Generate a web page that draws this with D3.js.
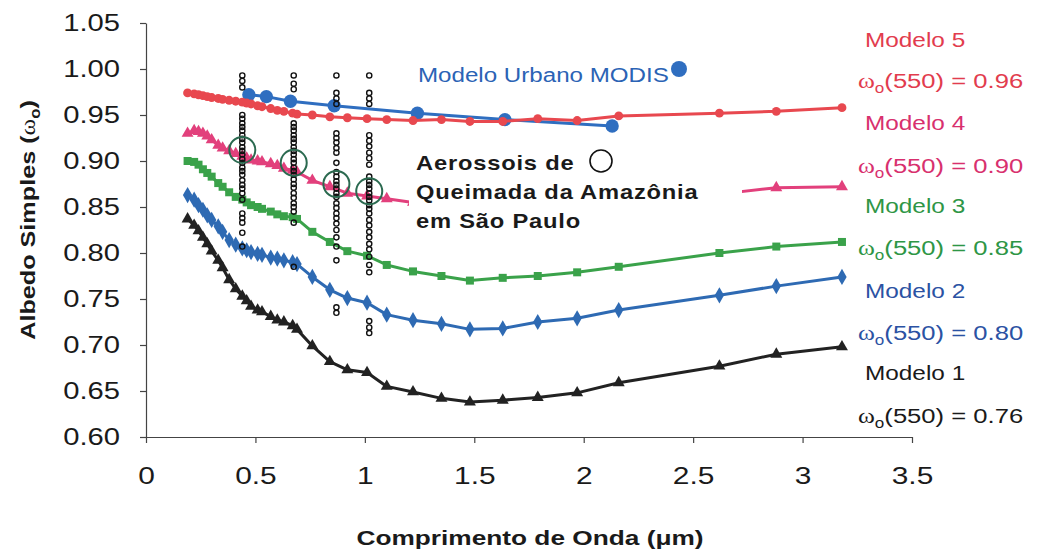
<!DOCTYPE html>
<html>
<head>
<meta charset="utf-8">
<script src="https://cdn.jsdelivr.net/npm/d3@7"></script>
<style>
  body { margin: 0; background: #fff; }
  svg { display: block; }
  text { font-family: "Liberation Sans", Arial, sans-serif; }
</style>
</head>
<body>
<svg id="chart" width="1039" height="552"></svg>
<script>
// Wavelengths (µm) at which the five optical models were computed
const wavelengths = [0.19, 0.22, 0.24, 0.26, 0.28, 0.30, 0.33, 0.35, 0.38, 0.41, 0.44, 0.46, 0.48, 0.51, 0.53,
  0.57, 0.60, 0.63, 0.67, 0.69, 0.76, 0.84, 0.92, 1.01, 1.10, 1.22, 1.35, 1.48, 1.63, 1.79, 1.97, 2.16,
  2.62, 2.88, 3.18];

// Single scattering albedo of each model
const modelo1 = [0.837, 0.830, 0.824, 0.817, 0.810, 0.802, 0.792, 0.784, 0.771, 0.761, 0.753, 0.748, 0.742, 0.738, 0.736,
  0.731, 0.727, 0.725, 0.721, 0.717, 0.699, 0.682, 0.673, 0.670, 0.655, 0.649, 0.642, 0.638, 0.640, 0.643, 0.648, 0.659,
  0.677, 0.690, 0.698];
const modelo2 = [0.863, 0.858, 0.852, 0.847, 0.841, 0.836, 0.829, 0.823, 0.814, 0.809, 0.805, 0.803, 0.801, 0.799, 0.798,
  0.795, 0.794, 0.792, 0.790, 0.788, 0.774, 0.760, 0.751, 0.746, 0.733, 0.727, 0.723, 0.717, 0.718, 0.725, 0.729, 0.738,
  0.754, 0.764, 0.774];
const modelo3 = [0.900, 0.899, 0.896, 0.891, 0.887, 0.883, 0.876, 0.872, 0.866, 0.861, 0.858, 0.855, 0.852, 0.850, 0.848,
  0.845, 0.842, 0.840, 0.839, 0.837, 0.823, 0.812, 0.802, 0.797, 0.787, 0.780, 0.775, 0.770, 0.773, 0.775, 0.779, 0.785,
  0.800, 0.807, 0.812];
const modelo4 = [0.930, 0.933, 0.932, 0.930, 0.927, 0.923, 0.917, 0.914, 0.911, 0.908, 0.905, 0.903, 0.901, 0.900, 0.899,
  0.897, 0.895, 0.892, 0.890, 0.888, 0.879, 0.872, 0.865, 0.862, 0.859, 0.855, 0.853, 0.851, 0.852, 0.855, 0.857, 0.860,
  0.864, 0.871, 0.872];
const modelo5 = [0.974, 0.973, 0.972, 0.971, 0.970, 0.969, 0.968, 0.967, 0.966, 0.965, 0.964, 0.963, 0.962, 0.960, 0.959,
  0.957, 0.955, 0.954, 0.952, 0.951, 0.950, 0.948, 0.947, 0.946, 0.945, 0.944, 0.945, 0.943, 0.943, 0.946, 0.944, 0.949,
  0.952, 0.954, 0.958];

// MODIS urban aerosol model
const modisWavelengths = [0.47, 0.55, 0.66, 0.86, 1.24, 1.64, 2.13];
const modisAlbedo = [0.972, 0.970, 0.965, 0.960, 0.952, 0.945, 0.938];

// AERONET retrievals of biomass-burning aerosol over São Paulo
const aeronetWavelengths = [0.44, 0.675, 0.87, 1.02];
const aeronet440 = [0.993, 0.987, 0.980, 0.950, 0.946, 0.941, 0.937, 0.933, 0.928, 0.924, 0.920, 0.915, 0.911, 0.907,
  0.902, 0.898, 0.893, 0.889, 0.885, 0.879, 0.874, 0.870, 0.865, 0.858, 0.843, 0.838, 0.833, 0.822, 0.807];
const aeronet675 = [0.993, 0.984, 0.978, 0.941, 0.937, 0.933, 0.928, 0.924, 0.920, 0.915, 0.911, 0.907, 0.902, 0.898,
  0.893, 0.889, 0.885, 0.880, 0.875, 0.871, 0.865, 0.860, 0.854, 0.850, 0.845, 0.833, 0.785];
const aeronet870 = [0.993, 0.974, 0.968, 0.962, 0.930, 0.925, 0.920, 0.914, 0.909, 0.898, 0.888, 0.883, 0.878, 0.874,
  0.870, 0.865, 0.861, 0.854, 0.849, 0.843, 0.838, 0.832, 0.825, 0.817, 0.807, 0.792, 0.741, 0.735];
const aeronet1020 = [0.993, 0.974, 0.968, 0.962, 0.928, 0.922, 0.916, 0.909, 0.903, 0.896, 0.883, 0.878, 0.874, 0.870,
  0.865, 0.861, 0.857, 0.852, 0.848, 0.843, 0.836, 0.830, 0.823, 0.817, 0.810, 0.804, 0.796, 0.787, 0.779, 0.726, 0.719,
  0.713];
const aeronetMean = [0.912, 0.898, 0.875, 0.867];

// Axis ticks and labels
const xTicks = [0, 0.5, 1, 1.5, 2, 2.5, 3, 3.5];
const yTicks = [0.60, 0.65, 0.70, 0.75, 0.80, 0.85, 0.90, 0.95, 1.00, 1.05];
const legendNames = ["Modelo 5", "Modelo 4", "Modelo 3", "Modelo 2", "Modelo 1"];
const legendOmega550 = ["0.96", "0.90", "0.85", "0.80", "0.76"];

const svg = d3.select("#chart");
const x = d3.scaleLinear().domain([0, 3.5]).range([146, 912]);
const y = d3.scaleLinear().domain([0.60, 1.05]).range([437, 23]);

// Axes
const yPad = 20;
const gy = svg.append("g").attr("transform", "translate(146,0)")
  .call(d3.axisLeft(y).tickValues(yTicks).tickFormat(d3.format(".2f")).tickSize(6).tickSizeOuter(0).tickPadding(yPad));
const gx = svg.append("g").attr("transform", "translate(0,437)")
  .call(d3.axisBottom(x).tickValues(xTicks).tickFormat(d => String(d)).tickSize(6).tickSizeOuter(0).tickPadding(25));
[gx, gy].forEach(g => {
  g.select(".domain").attr("stroke", "#444").attr("stroke-width", 1.2);
  g.selectAll(".tick line").attr("stroke", "#444").attr("stroke-width", 1.2);
  g.selectAll(".tick text").attr("fill", "#1a1a1a").attr("font-size", 23)
    .attr("font-family", "'Liberation Sans', Arial, sans-serif");
});
gy.selectAll(".tick text").attr("x", -(6 + yPad) / 1.27).attr("transform", "scale(1.27,1)");
gx.selectAll(".tick text").attr("transform", "scale(1.3,1)");

// Series
const sym = {
  triangle: d3.symbol().type(d3.symbolTriangle).size(62),
  square: d3.symbol().type(d3.symbolSquare).size(64),
  diamond: d3.symbol().type(d3.symbolDiamond).size(76),
  circle: d3.symbol().type(d3.symbolCircle).size(62),
  bigCircle: d3.symbol().type(d3.symbolCircle).size(140)
};

function drawSeries(xs, vs, color, marker) {
  const pts = xs.map((w, i) => [w, vs[i]]);
  const g = svg.append("g");
  g.append("path").datum(pts)
    .attr("fill", "none").attr("stroke", color).attr("stroke-width", 3).attr("stroke-linejoin", "round")
    .attr("d", d3.line().x(d => x(d[0])).y(d => y(d[1])));
  g.selectAll("path.m").data(pts).join("path").attr("class", "m")
    .attr("transform", d => `translate(${x(d[0])},${y(d[1])})`)
    .attr("d", marker).attr("fill", color);
}

drawSeries(modisWavelengths, modisAlbedo, "#2f6ec0", sym.bigCircle);
drawSeries(wavelengths, modelo5, "#e8484f", sym.circle);
drawSeries(wavelengths, modelo4, "#e2407c", sym.triangle);
drawSeries(wavelengths, modelo3, "#3aa24a", sym.square);
drawSeries(wavelengths, modelo2, "#2e6ab3", sym.diamond);
drawSeries(wavelengths, modelo1, "#222222", sym.triangle);

// Annotation box for the biomass-burning legend
svg.append("rect").attr("x", 409).attr("y", 140).attr("width", 333).attr("height", 100).attr("fill", "#fff");
const ann = ["Aerossois de", "Queimada da Amazônia", "em São Paulo"];
ann.forEach((t, i) => {
  svg.append("text").attr("transform", `translate(416,${170 + i * 29}) scale(1.13,1)`)
    .attr("font-size", 21).attr("font-weight", "bold").attr("letter-spacing", 0.7)
    .attr("fill", "#1a1a1a").text(t);
});
svg.append("circle").attr("cx", 601).attr("cy", 161).attr("r", 11)
  .attr("fill", "none").attr("stroke", "#111").attr("stroke-width", 1.6);

// MODIS label
svg.append("text").attr("transform", `translate(418,82) scale(1.15,1)`)
  .attr("font-size", 21).attr("fill", "#2b63b5").text("Modelo Urbano MODIS");
svg.append("circle").attr("cx", 679).attr("cy", 69).attr("r", 8).attr("fill", "#2f6ec0");

// AERONET observations
const aeronetCols = [aeronet440, aeronet675, aeronet870, aeronet1020];
aeronetCols.forEach((col, i) => {
  svg.append("g").selectAll("circle").data(col).join("circle")
    .attr("cx", x(aeronetWavelengths[i])).attr("cy", d => y(d)).attr("r", 2.6)
    .attr("fill", "none").attr("stroke", "#111").attr("stroke-width", 1.4);
});
svg.append("g").selectAll("circle").data(aeronetMean).join("circle")
  .attr("cx", (d, i) => x(aeronetWavelengths[i])).attr("cy", d => y(d)).attr("r", 13)
  .attr("fill", "none").attr("stroke", "#2b6a50").attr("stroke-width", 2);

// Right-hand legend
const legendColors = ["#e23c4e", "#d8306e", "#2e9646", "#2b52a3", "#1a1a1a"];
const nameBase = [47, 130, 213, 298, 380];
const omegaBase = [88, 173, 255, 340, 423];
legendNames.forEach((n, i) => {
  svg.append("text").attr("transform", `translate(865,${nameBase[i]}) scale(1.16,1)`)
    .attr("font-size", 21).attr("fill", legendColors[i]).text(n);
  const t = svg.append("text").attr("transform", `translate(858,${omegaBase[i]}) scale(1.22,1)`)
    .attr("font-size", 21).attr("fill", legendColors[i]);
  t.append("tspan").attr("font-family", "'Liberation Serif', serif").text("ω");
  t.append("tspan").attr("font-size", 14).attr("dy", 5).text("o");
  t.append("tspan").attr("dy", -5).text(`(550) = ${legendOmega550[i]}`);
});

// Axis titles
const yt = svg.append("text").attr("transform", "translate(35,220) rotate(-90) scale(1.2,1)")
  .attr("text-anchor", "middle").attr("font-size", 21).attr("font-weight", "bold").attr("fill", "#1a1a1a");
yt.append("tspan").text("Albedo Simples (");
yt.append("tspan").attr("font-family", "'Liberation Serif', serif").attr("font-weight", "normal").text("ω");
yt.append("tspan").attr("font-size", 14).attr("dy", 5).text("o");
yt.append("tspan").attr("dy", -5).text(")");

svg.append("text").attr("transform", "translate(530,545) scale(1.25,1)")
  .attr("text-anchor", "middle").attr("font-size", 21).attr("font-weight", "bold").attr("fill", "#1a1a1a")
  .text("Comprimento de Onda (μm)");
</script>
</body>
</html>
